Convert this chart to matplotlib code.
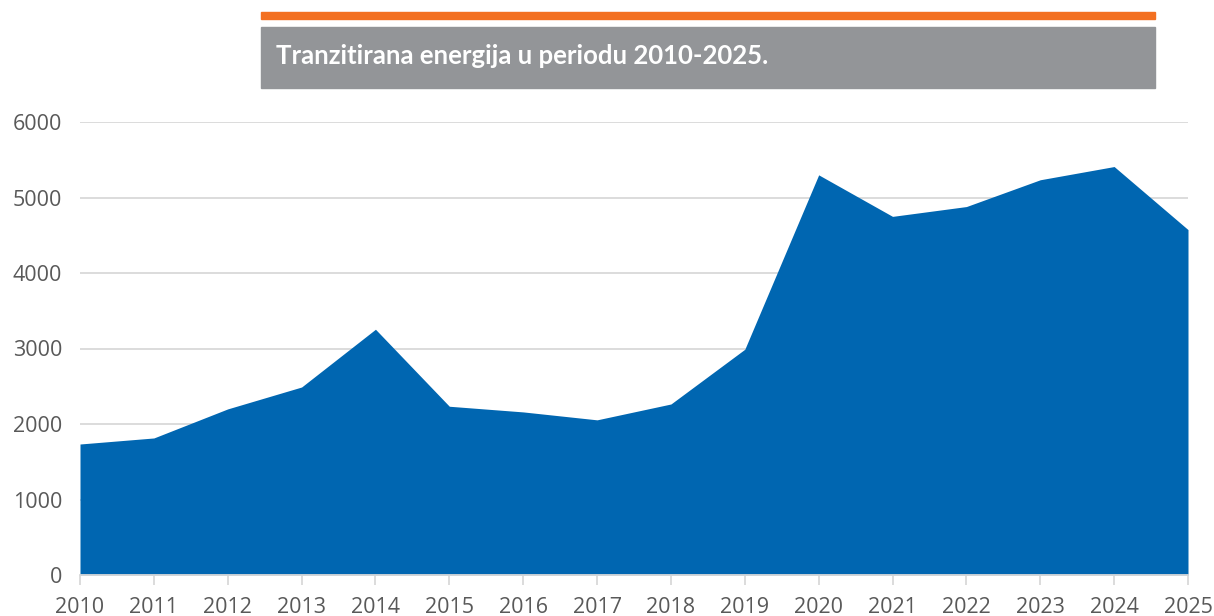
import matplotlib.pyplot as plt
from matplotlib.patches import Rectangle

years = list(range(2010, 2026))
energija = [1735, 1815, 2200, 2490, 3255, 2235, 2160, 2055, 2265, 2990,
            5300, 4750, 4880, 5235, 5410, 4575]
y_ticks = [0, 1000, 2000, 3000, 4000, 5000, 6000]
naslov = "Tranzitirana energija u periodu 2010-2025."

fig = plt.figure(figsize=(12.14, 6.16), dpi=100)
ax = fig.add_axes([80 / 1214, 1 - 575 / 616, (1188 - 80) / 1214, (575 - 122) / 616])

ax.fill_between(years, energija, 0, color="#0066B1", linewidth=0)
ax.set_xlim(2010, 2025)
ax.set_ylim(0, 6000)
ax.set_yticks(y_ticks)
ax.set_xticks(years)
ax.grid(axis="y", color="#D9D9D9", linewidth=1.3)
ax.set_axisbelow(True)

for s in ["top", "right", "left"]:
    ax.spines[s].set_visible(False)
ax.spines["bottom"].set_color("#D9D9D9")
ax.spines["bottom"].set_linewidth(1.3)
ax.tick_params(axis="x", colors="#D9D9D9", length=7, width=1.3, labelcolor="#595959",
               labelsize=15.5, pad=9)
ax.tick_params(axis="y", length=0, labelcolor="#595959", labelsize=15.5, pad=13)
for lbl in ax.get_xticklabels() + ax.get_yticklabels():
    lbl.set_fontfamily("Open Sans")

# naslov: narandzasta linija i sivi pravougaonik
fig.patches.append(Rectangle((261 / 1214, 1 - 19 / 616), (1155 - 261) / 1214, 7 / 616,
                             transform=fig.transFigure, color="#F37021", zorder=0))
fig.patches.append(Rectangle((261 / 1214, 1 - 88 / 616), (1155 - 261) / 1214, 61 / 616,
                             transform=fig.transFigure, color="#939598", zorder=0))
fig.text(276 / 1214, 1 - 56 / 616, naslov, color="white", fontsize=18.5, fontweight="bold",
         family="Lato", va="center", ha="left")

fig.savefig("out.png", dpi=100)
